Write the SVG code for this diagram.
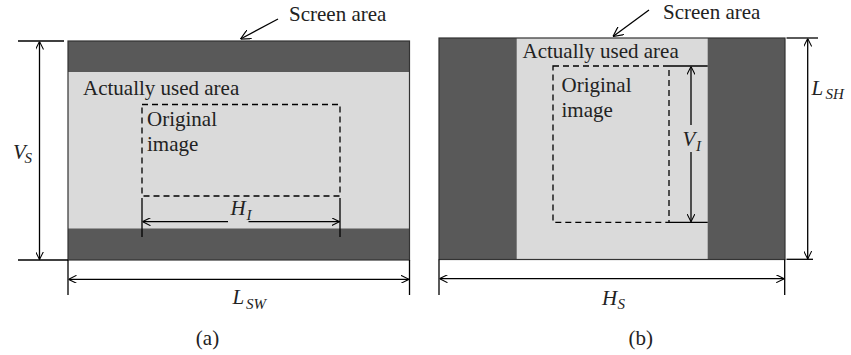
<svg xmlns="http://www.w3.org/2000/svg" width="851" height="355" viewBox="0 0 851 355">
<defs>
<marker id="ah" viewBox="0 0 10 10" refX="10" refY="5" markerWidth="8" markerHeight="8" markerUnits="userSpaceOnUse" orient="auto-start-reverse">
<path d="M0,0 L10,5 L0,10" fill="none" stroke="#000" stroke-width="1.3"/>
</marker>
<marker id="ah2" viewBox="0 0 10 10" refX="10" refY="5" markerWidth="10" markerHeight="10" markerUnits="userSpaceOnUse" orient="auto-start-reverse">
<path d="M0,0 L10,5 L0,10" fill="none" stroke="#000" stroke-width="1.2"/>
</marker>
</defs>
<style>
.dark{fill:#595959}
.light{fill:#dadada}
.frame{fill:none;stroke:#333;stroke-width:1.2}
.ln{stroke:#000;stroke-width:1.3;fill:none}
.dash{stroke:#000;stroke-width:1.3;fill:none;stroke-dasharray:6,4}
.arr{stroke:#000;stroke-width:1.3;fill:none;marker-start:url(#ah);marker-end:url(#ah)}
.t{font-family:"Liberation Serif",serif;font-size:21px;fill:#222}
.m{font-family:"Liberation Serif",serif;font-size:21px;font-style:italic;fill:#222}
.s{font-family:"Liberation Serif",serif;font-size:15px;font-style:italic;fill:#222}
</style>
<rect width="851" height="355" fill="#fff"/>

<g id="panel-a">
<g id="screen-a">
<rect class="light" x="68" y="41" width="341.5" height="219"/>
<rect class="dark" x="68" y="41" width="341.5" height="31"/>
<rect class="dark" x="68" y="228.5" width="341.5" height="31.5"/>
<rect class="frame" x="68" y="41" width="341.5" height="219"/>
</g>
<g id="screen-label-a">
<text class="t" x="289" y="21">Screen area</text>
</g>
<g id="used-a">
<text class="t" x="83" y="95">Actually used area</text>
</g>
<g id="image-a">
<rect class="dash" x="142" y="104.5" width="198" height="91.5"/>
<text class="t" x="147" y="126">Original</text>
<text class="t" x="147" y="151">image</text>
</g>
<text class="t" x="207.5" y="345" text-anchor="middle">(a)</text>
</g>

<g id="panel-b">
<g id="screen-b">
<rect class="dark" x="439" y="38" width="346" height="221.5"/>
<rect class="light" x="516.7" y="38" width="191" height="221.5"/>
<rect class="frame" x="439" y="38" width="346" height="221.5"/>
</g>
<g id="screen-label-b">
<text class="t" x="663" y="19">Screen area</text>
</g>
<g id="used-b">
<text class="t" x="522.5" y="58">Actually used area</text>
</g>
<g id="image-b">
<rect class="dash" x="553" y="66" width="116" height="156.3"/>
<text class="t" x="561.5" y="92">Original</text>
<text class="t" x="561.5" y="117">image</text>
</g>
<text class="t" x="640.8" y="345" text-anchor="middle">(b)</text>
</g>

<g id="connectors">
<!-- screen area pointers -->
<line class="ln" x1="278" y1="19" x2="240.5" y2="39" marker-end="url(#ah2)"/>
<line class="ln" x1="649" y1="10" x2="613" y2="36.5" marker-end="url(#ah2)"/>

<!-- V_S -->
<line class="ln" x1="18" y1="41" x2="64" y2="41"/>
<line class="ln" x1="18" y1="260" x2="68" y2="260"/>
<line class="arr" x1="39.5" y1="41.5" x2="39.5" y2="259.5"/>

<!-- L_SW -->
<line class="ln" x1="68" y1="260" x2="68" y2="295"/>
<line class="ln" x1="409.5" y1="260" x2="409.5" y2="295"/>
<line class="arr" x1="68.5" y1="279.3" x2="409" y2="279.3"/>

<!-- H_I -->
<line class="ln" x1="142" y1="198" x2="142" y2="237"/>
<line class="ln" x1="340" y1="198" x2="340" y2="237"/>
<line class="arr" x1="142.5" y1="221.7" x2="339.5" y2="221.7"/>
<rect class="light" x="228" y="205" width="20.5" height="22"/>

<!-- L_SH -->
<line class="ln" x1="786.5" y1="38" x2="818" y2="38"/>
<line class="ln" x1="786.5" y1="259.3" x2="813" y2="259.3"/>
<line class="arr" x1="807.7" y1="38.5" x2="807.7" y2="259"/>

<!-- H_S -->
<line class="ln" x1="439" y1="259.5" x2="439" y2="295"/>
<line class="ln" x1="784.7" y1="259.5" x2="784.7" y2="295"/>
<line class="arr" x1="439.5" y1="278.7" x2="784.2" y2="278.7"/>

<!-- V_I -->
<line class="ln" x1="669" y1="66" x2="707.7" y2="66"/>
<line class="ln" x1="669" y1="222.3" x2="707.7" y2="222.3"/>
<line class="arr" x1="691" y1="66.5" x2="691" y2="221.8"/>
<rect class="light" x="681" y="125" width="24" height="27"/>
</g>

<g id="dim-labels">
<text class="m" x="13" y="159">V</text><text class="s" x="24.5" y="163">S</text>
<text class="m" x="232.5" y="303.5">L</text><text class="s" x="246" y="308.5">SW</text>
<text class="m" x="230.5" y="214.5">H</text><text class="s" x="246.5" y="219.5">I</text>
<text class="m" x="811.5" y="94.5">L</text><text class="s" x="825.5" y="99">SH</text>
<text class="m" x="602" y="304.5">H</text><text class="s" x="617.5" y="309">S</text>
<text class="m" x="682.5" y="146">V</text><text class="s" x="696" y="151">I</text>
</g>
</svg>
